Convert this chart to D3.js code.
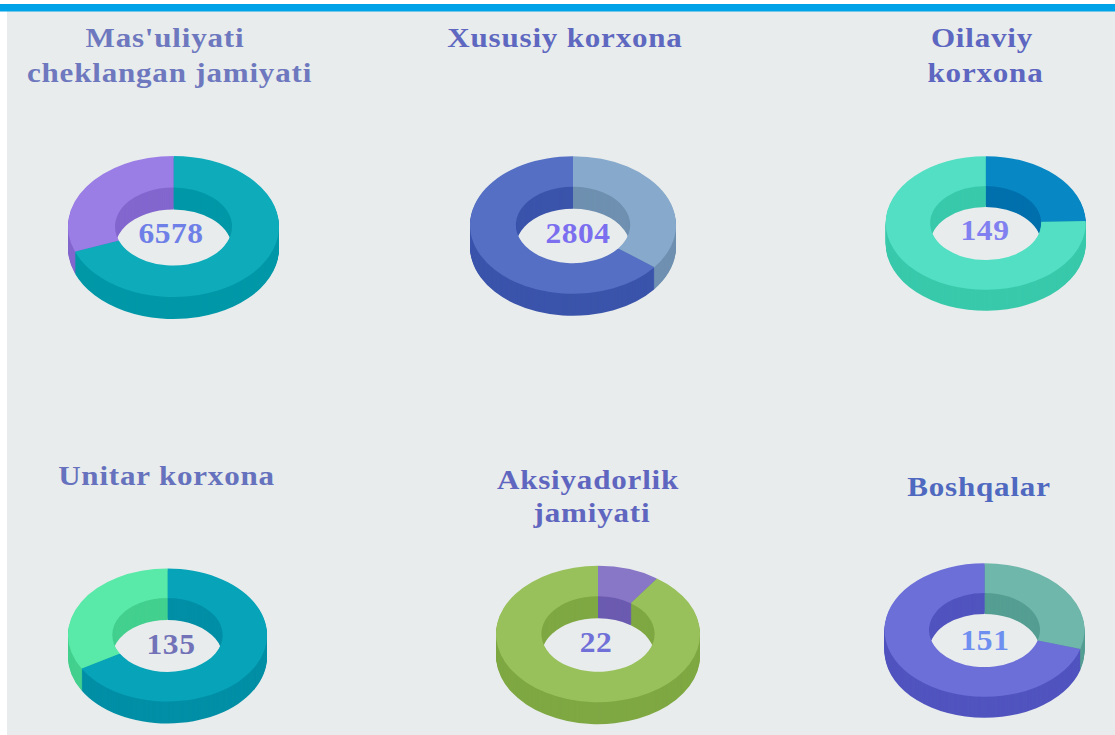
<!DOCTYPE html>
<html>
<head>
<meta charset="utf-8">
<script src="https://cdn.jsdelivr.net/npm/d3@7"></script>
<style>
  html, body { margin: 0; padding: 0; background: #fff; }
</style>
</head>
<body>
<svg id="chart" width="1115" height="735" style="display:block"></svg>
<script>
// Chart values
const titles = [
    ["Mas'uliyati", "cheklangan jamiyati"],
    ["Xususiy korxona"],
    ["Oilaviy", "korxona"],
    ["Unitar korxona"],
    ["Aksiyadorlik", "jamiyati"],
    ["Boshqalar"]
];
const totals = [6578, 2804, 149, 135, 22, 151];

// Share of each ring, clockwise from 12 o'clock
const sliceShares = [
    [69.2, 30.8],
    [35.5, 64.5],
    [24.5, 75.5],
    [66.6, 33.4],
    [9.8, 90.2],
    [29.6, 70.4]
];
const topColors = [
    ["#0eabbb", "#9b7de6"],
    ["#87a9cc", "#546fc4"],
    ["#0787c4", "#52dfc3"],
    ["#07a3b9", "#59e9a8"],
    ["#8877c7", "#98c15c"],
    ["#6fb6ab", "#6c6fd8"]
];
const sideColors = [
    ["#0098a8", "#8366ce"],
    ["#6f90b0", "#3b54ab"],
    ["#0070ad", "#39c9ab"],
    ["#008fa6", "#43d08f"],
    ["#6b5bb0", "#7fa843"],
    ["#559e93", "#5154bf"]
];
const titleColors = ["#6e78bf", "#5f68c0", "#5d66c0", "#6672bd", "#5f66c0", "#4f68c0"];
const totalColors = ["#6f7fe8", "#7b6ff0", "#8080f0", "#7272b8", "#7070d8", "#6f8ff0"];

// Ring geometry per chart: centre, outer radius, thickness of the 3d wall
const centerX = [173.5, 573, 985.7, 167.5, 598, 984.5];
const centerY = [226.5, 225, 223, 635, 634, 630];
const radii = [105.5, 103, 100, 99.5, 102, 100];
const depths = [22, 22, 21, 22, 22, 21];

// Text positions, one x per title line since the lines are not quite centred
const titleX = [[165, 169.5], [565], [982, 985.5], [166.5], [588, 592], [979]];
const titleY = [47, 47, 47, 485, 489, 496];
const titleGap = [35, 35, 35, 35, 33, 35];
const totalX = [171, 578, 985, 171, 596, 985];
const totalY = [243, 243, 240, 654, 652, 650];

const squash = 0.668;
const innerRatio = 0.555;
const titleStretch = 1.15;
const totalStretch = 1.05;

const svg = d3.select('#chart');

// Page background and the blue strip on top
svg.append('rect')
    .attr('x', 7)
    .attr('y', 11)
    .attr('width', 1108)
    .attr('height', 724)
    .attr('fill', '#e8ecec');
svg.append('rect')
    .attr('y', 4)
    .attr('width', 1115)
    .attr('height', 7.5)
    .attr('fill', '#00a3e8');

const pie = d3.pie().sort(null).value(d => d);
const arc = d3.arc();

titles.forEach((title, i) => {
    const r = radii[i];
    const arcs = pie(sliceShares[i]);
    const ring = d => arc({
        innerRadius: r * innerRatio,
        outerRadius: r,
        startAngle: d.startAngle,
        endAngle: d.endAngle
    });

    // Wall: same ring repeated downwards, darker shade, then the top face
    for (let off = depths[i]; off >= 0; off--) {
        const colors = off === 0 ? topColors[i] : sideColors[i];
        svg.append('g')
            .attr('transform', `translate(${centerX[i]},${centerY[i] + off}) scale(1,${squash})`)
            .selectAll('path')
            .data(arcs)
            .join('path')
            .attr('d', ring)
            .attr('fill', (d, k) => colors[k]);
    }

    // Number in the hole
    svg.append('text')
        .attr('transform', `translate(${totalX[i]},${totalY[i]}) scale(${totalStretch},1)`)
        .attr('text-anchor', 'middle')
        .attr('font-family', 'Liberation Serif')
        .attr('font-weight', 'bold')
        .attr('font-size', 30)
        .attr('letter-spacing', 0.5)
        .attr('fill', totalColors[i])
        .text(totals[i]);

    // Title, one or two lines (the source image is stretched sideways)
    svg.append('g')
        .selectAll('text')
        .data(title)
        .join('text')
        .attr('transform', (d, k) => `translate(${titleX[i][k]},${titleY[i] + k * titleGap[i]}) scale(${titleStretch},1)`)
        .attr('text-anchor', 'middle')
        .attr('font-family', 'Liberation Serif')
        .attr('font-weight', 'bold')
        .attr('font-size', 27)
        .attr('letter-spacing', 0.7)
        .attr('fill', titleColors[i])
        .text(d => d);
});
</script>
</body>
</html>
